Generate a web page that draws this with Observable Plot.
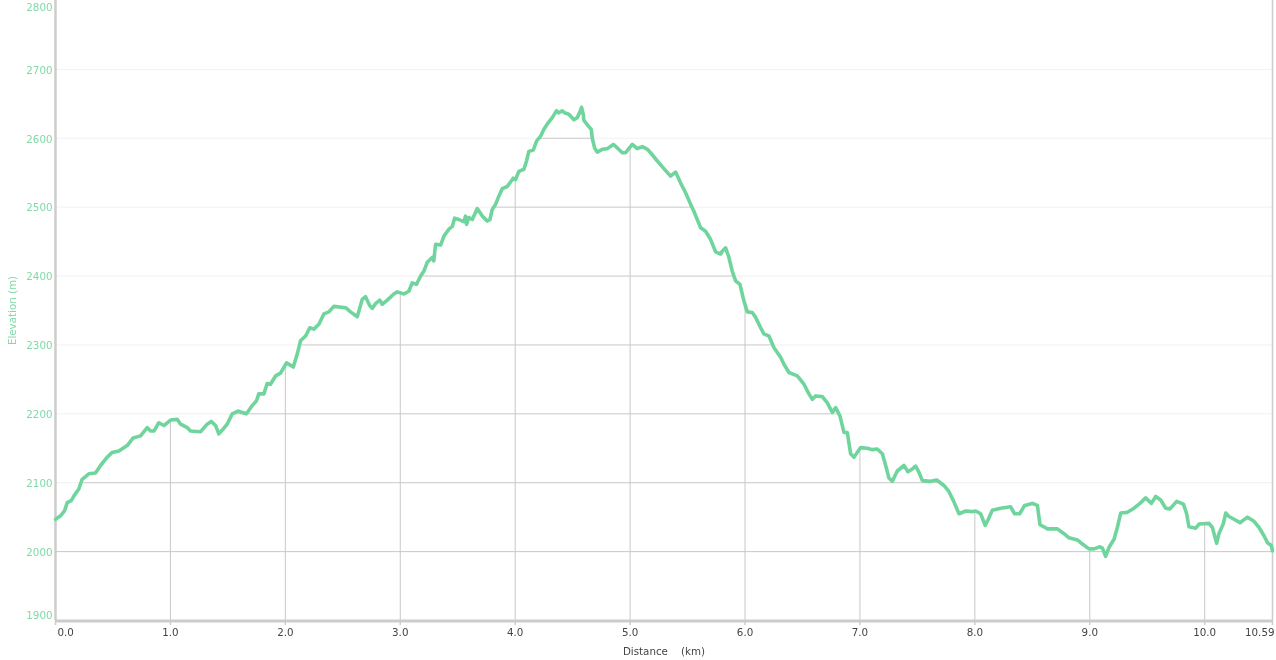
<!DOCTYPE html>
<html>
<head>
<meta charset="utf-8">
<script src="https://cdn.jsdelivr.net/npm/d3@7"></script>
<script src="https://cdn.jsdelivr.net/npm/@observablehq/plot@0.6"></script>
<style>
  html, body { margin: 0; padding: 0; background: #fff; }
  #chart svg { display: block; }
</style>
</head>
<body>
<div id="chart"></div>
<script>
// Distance along the route (km)
const distanceKm = [
  0.000, 0.044, 0.078, 0.102, 0.137, 0.165, 0.203, 0.232, 0.290, 0.348,
  0.392, 0.450, 0.493, 0.551, 0.624, 0.676, 0.740, 0.798, 0.827, 0.856,
  0.899, 0.943, 1.001, 1.059, 1.088, 1.146, 1.175, 1.262, 1.320, 1.355,
  1.393, 1.421, 1.460, 1.494, 1.538, 1.587, 1.625, 1.662, 1.712, 1.749,
  1.769, 1.813, 1.842, 1.871, 1.915, 1.958, 2.010, 2.069, 2.104, 2.132,
  2.176, 2.213, 2.248, 2.292, 2.335, 2.379, 2.422, 2.524, 2.567, 2.626,
  2.669, 2.698, 2.735, 2.756, 2.785, 2.822, 2.843, 2.887, 2.944, 2.974,
  3.031, 3.075, 3.104, 3.142, 3.177, 3.205, 3.235, 3.278, 3.292, 3.307,
  3.351, 3.380, 3.423, 3.453, 3.473, 3.510, 3.554, 3.568, 3.577, 3.597,
  3.627, 3.670, 3.714, 3.757, 3.780, 3.801, 3.829, 3.858, 3.888, 3.931,
  3.966, 3.983, 4.003, 4.032, 4.076, 4.099, 4.119, 4.158, 4.186, 4.221,
  4.250, 4.285, 4.323, 4.360, 4.380, 4.410, 4.430, 4.467, 4.511, 4.540,
  4.563, 4.578, 4.593, 4.598, 4.641, 4.662, 4.671, 4.691, 4.714, 4.758,
  4.802, 4.854, 4.889, 4.932, 4.961, 5.019, 5.063, 5.106, 5.150, 5.178,
  5.237, 5.294, 5.352, 5.396, 5.440, 5.483, 5.527, 5.555, 5.614, 5.657,
  5.701, 5.744, 5.788, 5.802, 5.831, 5.860, 5.889, 5.918, 5.956, 5.990,
  6.020, 6.063, 6.092, 6.136, 6.164, 6.208, 6.252, 6.310, 6.339, 6.382,
  6.455, 6.513, 6.556, 6.586, 6.614, 6.673, 6.716, 6.760, 6.789, 6.826,
  6.861, 6.890, 6.919, 6.948, 7.006, 7.064, 7.108, 7.151, 7.195, 7.224,
  7.252, 7.282, 7.325, 7.383, 7.418, 7.456, 7.485, 7.514, 7.543, 7.615,
  7.668, 7.731, 7.775, 7.813, 7.862, 7.920, 7.978, 8.007, 8.050, 8.090,
  8.120, 8.152, 8.225, 8.311, 8.346, 8.390, 8.433, 8.500, 8.544, 8.567,
  8.601, 8.631, 8.718, 8.776, 8.819, 8.892, 8.936, 8.993, 9.037, 9.089,
  9.110, 9.138, 9.167, 9.211, 9.240, 9.269, 9.327, 9.385, 9.437, 9.486,
  9.536, 9.574, 9.617, 9.661, 9.698, 9.756, 9.815, 9.843, 9.863, 9.922,
  9.951, 10.037, 10.067, 10.104, 10.124, 10.163, 10.183, 10.212, 10.255, 10.307,
  10.372, 10.429, 10.473, 10.516, 10.546, 10.580, 10.590
];

// Elevation at each distance (m)
const elevationM = [
  2047, 2052, 2059, 2071, 2074, 2082, 2091, 2105, 2113, 2114,
  2125, 2137, 2144, 2146, 2154, 2165, 2168, 2180, 2175, 2175,
  2187, 2183, 2191, 2192, 2185, 2180, 2175, 2174, 2185, 2189,
  2183, 2171, 2178, 2185, 2200, 2204, 2202, 2200, 2212, 2219,
  2229, 2229, 2244, 2243, 2255, 2259, 2274, 2268, 2287, 2306,
  2313, 2325, 2323, 2330, 2345, 2348, 2356, 2354, 2348, 2341,
  2366, 2370, 2357, 2353, 2360, 2365, 2359, 2365, 2374, 2377,
  2374, 2378, 2390, 2388, 2400, 2407, 2420, 2427, 2422, 2446,
  2445, 2458, 2468, 2472, 2484, 2482, 2479, 2487, 2475, 2485,
  2482, 2498, 2487, 2480, 2482, 2497, 2504, 2516, 2527, 2530,
  2538, 2542, 2540, 2552, 2555, 2567, 2581, 2583, 2596, 2603,
  2613, 2622, 2630, 2640, 2637, 2640, 2637, 2635, 2627, 2630,
  2638, 2645, 2634, 2626, 2617, 2613, 2600, 2586, 2580, 2584,
  2585, 2591, 2586, 2579, 2579, 2591, 2585, 2588, 2584, 2579,
  2567, 2556, 2545, 2551, 2535, 2521, 2504, 2494, 2470, 2465,
  2453, 2435, 2432, 2436, 2441, 2427, 2407, 2393, 2388, 2364,
  2348, 2347, 2340, 2325, 2316, 2313, 2296, 2282, 2272, 2260,
  2255, 2243, 2229, 2221, 2226, 2225, 2216, 2202, 2209, 2197,
  2173, 2173, 2142, 2137, 2151, 2150, 2148, 2149, 2142, 2125,
  2107, 2102, 2117, 2125, 2116, 2120, 2124, 2115, 2103, 2102,
  2104, 2096, 2087, 2074, 2055, 2059, 2058, 2059, 2055, 2038,
  2048, 2060, 2063, 2065, 2055, 2055, 2067, 2070, 2067, 2039,
  2036, 2033, 2033, 2026, 2020, 2017, 2011, 2004, 2004, 2007,
  2005, 1993, 2006, 2018, 2035, 2056, 2057, 2063, 2070, 2078,
  2070, 2080, 2075, 2063, 2062, 2073, 2069, 2055, 2036, 2034,
  2040, 2041, 2035, 2012, 2026, 2041, 2056, 2051, 2047, 2042,
  2050, 2044, 2035, 2023, 2013, 2009, 2001
];

// Axis ticks and labels
const xTickValues = [0, 1, 2, 3, 4, 5, 6, 7, 8, 9, 10, 10.59];
const xTickLabels = ["0.0", "1.0", "2.0", "3.0", "4.0", "5.0", "6.0", "7.0", "8.0", "9.0", "10.0", "10.59"];
const xGridValues = [1, 2, 3, 4, 5, 6, 7, 8, 9, 10];
const yTickValues = [1900, 2000, 2100, 2200, 2300, 2400, 2500, 2600, 2700, 2800];
const yGridValues = [2000, 2100, 2200, 2300, 2400, 2500, 2600, 2700];
const xLabel = "Distance\u00a0\u00a0\u00a0\u00a0(km)";
const yLabel = "Elevation (m)";

const profile = distanceKm.map((km, i) => ({km, m: elevationM[i]}));
const xDomain = [0, 10.59];
const yDomain = [1900, 2800];

const lineColor = "#6fd59c";
const labelGreen = "#7fdaa7";
const gridGray = "#c8c8c8";
const axisGray = "#cccccc";

const xTicks = xTickValues.map((v, i) => ({v, label: xTickLabels[i], i}));
const lastIdx = xTicks.length - 1;
const yTicks = yTickValues.map(v => ({v, label: String(v)}));

const chart = Plot.plot({
  width: 1276,
  height: 660,
  marginLeft: 55,
  marginRight: 4,
  marginTop: 0,
  marginBottom: 40,
  style: {fontFamily: "'DejaVu Sans', Verdana, sans-serif", fontSize: "10.3px", background: "#fff"},
  x: {type: "linear", domain: xDomain, axis: null},
  y: {type: "linear", domain: yDomain, axis: null},
  marks: [
    // grid visible beneath the profile
    Plot.ruleY(yGridValues, {stroke: gridGray, strokeWidth: 1}),
    Plot.ruleX(xGridValues, {stroke: gridGray, strokeWidth: 1}),
    // white sky above the profile hides the grid
    Plot.area(profile, {x1: "km", y1: "m", y2: () => yDomain[1], fill: "#fff"}),
    // faint grid above the profile
    Plot.ruleY(yGridValues, {stroke: "#f1f1f1", strokeWidth: 1, mixBlendMode: "darken"}),
    // frame
    Plot.ruleX([xDomain[0]], {stroke: axisGray, strokeWidth: 2.5}),
    Plot.ruleX([xDomain[1]], {stroke: axisGray, strokeWidth: 1.5}),
    Plot.ruleY([yDomain[0]], {stroke: axisGray, strokeWidth: 3, dy: 0.5}),
    // the elevation profile
    Plot.line(profile, {x: "km", y: "m", stroke: lineColor, strokeWidth: 3.6, strokeLinejoin: "round", strokeLinecap: "round"}),
    // x ticks
    Plot.ruleX(xTickValues, {y1: yDomain[0], y2: yDomain[0], insetBottom: -5, stroke: axisGray, strokeWidth: 1.5}),
    // x tick labels
    Plot.text(xTicks.filter(d => d.i === 0), {x: "v", text: "label", frameAnchor: "bottom", dy: 15, dx: 2, textAnchor: "start", fill: "#444"}),
    Plot.text(xTicks.filter(d => d.i > 0 && d.i < lastIdx), {x: "v", text: "label", frameAnchor: "bottom", dy: 15, textAnchor: "middle", fill: "#444"}),
    Plot.text(xTicks.filter(d => d.i === lastIdx), {x: "v", text: "label", frameAnchor: "bottom", dy: 15, dx: 2, textAnchor: "end", fill: "#444"}),
    Plot.text([xLabel], {frameAnchor: "bottom", dy: 34, text: d => d, fill: "#444", textAnchor: "middle"}),
    // y tick labels
    Plot.text(yTicks.filter(d => d.v > yDomain[0] && d.v < yDomain[1]), {y: "v", text: "label", frameAnchor: "left", dx: -3, textAnchor: "end", fill: labelGreen, dy: 1}),
    Plot.text(yTicks.filter(d => d.v === yDomain[1]), {y: "v", text: "label", frameAnchor: "left", dx: -3, textAnchor: "end", fill: labelGreen, dy: 7}),
    Plot.text(yTicks.filter(d => d.v === yDomain[0]), {y: "v", text: "label", frameAnchor: "left", dx: -3, textAnchor: "end", fill: labelGreen, dy: -5}),
    Plot.text([yLabel], {frameAnchor: "left", dx: -43, rotate: -90, text: d => d, fill: labelGreen, textAnchor: "middle"})
  ]
});

document.getElementById("chart").appendChild(chart);
</script>
</body>
</html>
